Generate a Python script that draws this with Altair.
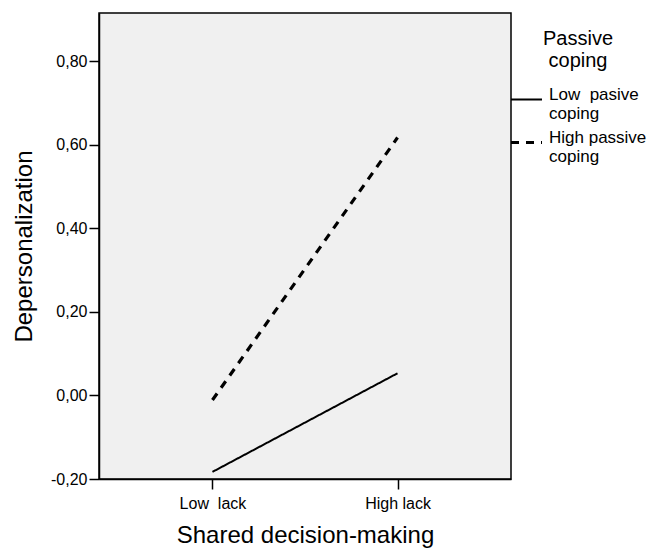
import altair as alt
import pandas as pd

categories = ["Low lack", "High lack"]
series_names = ["Low\u00a0 pasive|coping", "High passive|coping"]
low_passive = [-0.183, 0.053]
high_passive = [-0.011, 0.617]
y_ticks = [-0.2, 0.0, 0.2, 0.4, 0.6, 0.8]

rows = []
for name, vals in zip(series_names, [low_passive, high_passive]):
    for c, v in zip(categories, vals):
        rows.append({"lack": c, "value": v, "coping": name})
df = pd.DataFrame(rows)

FONT = "Liberation Sans"

legend_spec = dict(
    title=["Passive", "coping"],
    labelExpr="split(datum.label, '|')",
)

chart = alt.Chart(df).mark_line(color="black").encode(
    x=alt.X("lack:N", sort=categories,
            scale=alt.Scale(type="point", domain=categories, padding=0.613),
            axis=alt.Axis(title="Shared decision-making", labelAngle=0,
                          labelPadding=6, titlePadding=12,
                          labelExpr="datum.label == 'Low lack' ? 'Low\u00a0 lack' : datum.label")),
    y=alt.Y("value:Q",
            scale=alt.Scale(domain=[-0.2, 0.915], nice=False, zero=False),
            axis=alt.Axis(title="Depersonalization", values=y_ticks,
                          labelPadding=2, titlePadding=14,
                          labelExpr="replace(replace(format(datum.value, '.2f'), '.', ','), '\u2212', '-')")),
    strokeDash=alt.StrokeDash("coping:N",
                              scale=alt.Scale(domain=series_names, range=[[1, 0], [8, 7]]),
                              legend=alt.Legend(**legend_spec)),
    strokeWidth=alt.StrokeWidth("coping:N",
                                scale=alt.Scale(domain=series_names, range=[2, 3.2]),
                                legend=alt.Legend(**legend_spec)),
).properties(
    width=412, height=466,
    autosize=alt.AutoSizeParams(type="none"),
    padding={"left": 91, "top": 5, "right": 145, "bottom": 70},
).configure_view(
    fill="#f0f0f0", stroke="black", strokeWidth=1.5
).configure_axis(
    grid=False, domainColor="black", domainWidth=1.5, tickColor="black",
    tickWidth=1.5, tickSize=10, labelColor="black", titleColor="black",
    labelFont=FONT, titleFont=FONT, labelFontSize=16, titleFontSize=24,
    titleFontWeight="normal"
).configure_legend(
    orient="none", legendX=410, legendY=16, padding=0,
    symbolType="stroke", symbolSize=961, symbolStrokeColor="black",
    labelOffset=5, labelFont=FONT, labelFontSize=17, labelColor="black",
    labelLimit=0, labelBaseline="alphabetic",
    titleFont=FONT, titleFontSize=20, titleFontWeight="normal",
    titleColor="black", titleAlign="center", titleAnchor="middle",
    titleLimit=0, titlePadding=12, rowPadding=3, titleLineHeight=22
)

chart.save("out.html", embed_options={"renderer": "svg", "actions": False})
